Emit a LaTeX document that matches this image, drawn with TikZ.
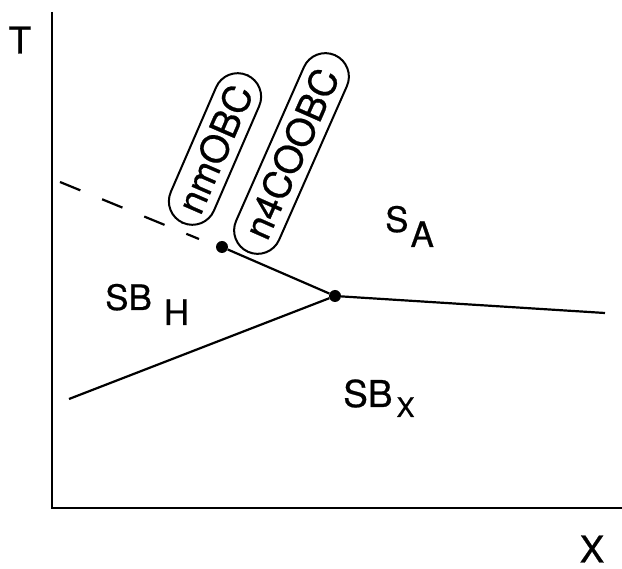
\documentclass[tikz,border=0pt]{standalone}
\usepackage{fontspec}
\setmainfont{TeX Gyre Heros}[FakeBold=0.6]
\begin{document}
\begin{tikzpicture}[x=1pt,y=-1pt,
  axis/.style={line width=2.6pt},
  phase/.style={line width=2.2pt},
  dot/.style={circle,fill,inner sep=0pt,minimum size=12pt},
  capsule/.style={draw,line width=2pt,rounded corners=23.5pt,minimum height=47pt,inner xsep=0pt,
    text height=27pt,text depth=0pt,font=\fontsize{38}{38}\selectfont},
  lbl/.style={font=\fontsize{35}{35}\selectfont,inner sep=0pt}]
\useasboundingbox (0,0) rectangle (622,569);
\coordinate (top) at (52,12);
\coordinate (origin) at (52,508);
\coordinate (right) at (622,508);
\draw[axis] (top) -- (origin) -- (right);
\node[lbl,font=\fontsize{37}{37}\selectfont] (T) at (20,40) {T};
\node[lbl,font=\fontsize{37}{37}\selectfont] (X) at (592,549) {X};
\node[dot] (p1) at (222,247) {};
\node[dot] (p2) at (335,296) {};
\coordinate (dashstart) at (60,182);
\coordinate (dashend) at (199,239);
\coordinate (rend) at (605,313);
\coordinate (lend) at (69,399);
\draw[phase,dash pattern=on 22pt off 23.5pt] (dashstart) -- (dashend);
\draw[phase] (p1) -- (p2) -- (rend);
\draw[phase] (lend) -- (p2);
\node[capsule,minimum width=161pt,rotate=66.6] (c1) at (215,149) {nmOBC};
\node[capsule,minimum width=215pt,rotate=66.2] (c2) at (291.5,153.5) {n4COOBC};
\node[lbl,anchor=base west] (sbh) at (105,310) {SB\hspace{12pt}\raisebox{-15pt}{H}};
\node[lbl,anchor=base west] (sa) at (385,232) {S\hspace{2pt}\raisebox{-15pt}{A}};
\node[anchor=base west,inner sep=0pt] (sbx) at (343,407) {\fontsize{37}{37}\selectfont SB\hspace{4pt}\raisebox{-10pt}{\fontsize{27}{27}\selectfont X}};
\end{tikzpicture}
\end{document}
